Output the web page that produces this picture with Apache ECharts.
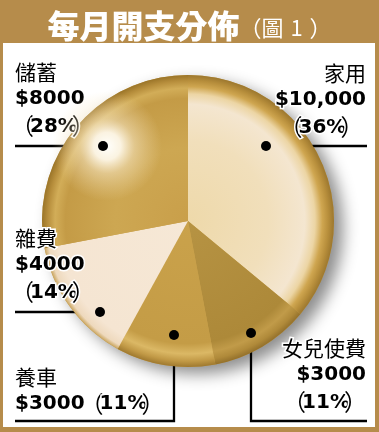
<!DOCTYPE html>
<html>
<head>
<meta charset="utf-8">
<script src="https://cdn.jsdelivr.net/npm/echarts@6/dist/echarts.min.js"></script>
<style>
html,body{margin:0;padding:0;background:#b68c4b;}
#c{width:379px;height:432px;}
</style>
</head>
<body>
<div id="c"></div>
<script>
// ---- data ----
const categories = ['家用', '女兒使費', '養車', '雜費', '儲蓄'];
const amounts = ['$10,000', '$3000', '$3000', '$4000', '$8000'];
const percents = [36, 11, 11, 14, 28];
const titleMain = '每月開支分佈';
const titleSub = ['（', '圖', '1', '）'];

// ---- layout / style (not data) ----
const CX = 188, CY = 221, R = 146;
const labelLayoutCfg = [
  {x: 366, y: 59, align: 'right', line: [[266,146],[316,146],[367,146]], inline: false},
  {x: 366, y: 334, align: 'right', line: [[251,333],[251,421],[367,421]], inline: false},
  {x: 15, y: 363, align: 'left', line: [[174,335],[174,421],[15,421]], inline: true},
  {x: 15, y: 224, align: 'left', line: [[100,312],[57,312],[15,312]], inline: false},
  {x: 15, y: 58, align: 'left', line: [[103,146],[60,146],[15,146]], inline: false}
];
function rg(stops) {
  return {type: 'radial', x: CX, y: CY, r: R, global: true,
    colorStops: stops.map(s => ({offset: s[0], color: s[1]}))};
}
const sliceColors = [
  rg([[0,'#eed9aa'],[0.55,'#f1dfbb'],[0.8,'#f4e6d0'],[0.87,'#ecd5a4'],[0.92,'#cfa650'],[0.96,'#b88f3c'],[1,'#9c772e']]),
  rg([[0,'#b69343'],[0.84,'#ad8939'],[0.91,'#c19b49'],[0.96,'#b08a3a'],[1,'#93702b']]),
  rg([[0,'#caa24b'],[0.84,'#c49c46'],[0.91,'#dbb865'],[0.96,'#c19946'],[1,'#9f792f']]),
  rg([[0,'#f6e8d6'],[0.9,'#f5e5d2'],[0.97,'#eed9bd'],[1,'#c9a45c']]),
  rg([[0,'#c99f4a'],[0.5,'#cda752'],[0.84,'#c49b46'],[0.91,'#d2ad58'],[0.96,'#b78e3c'],[1,'#9a7428']])
];

const pieData = categories.map((c, i) => ({
  name: c,
  value: percents[i],
  itemStyle: {color: sliceColors[i]},
  label: {
    formatter: labelLayoutCfg[i].inline
      ? '{n|' + c + '}\n{v|' + amounts[i] + '}{pl|（}{v|' + percents[i] + '%}{pr|）}'
      : '{n|' + c + '}\n{v|' + amounts[i] + '}\n{pl|（}{v|' + percents[i] + '%}{pr|）}'
  }
}));

const chart = echarts.init(document.getElementById('c'), null, {renderer: 'canvas'});

const dots = labelLayoutCfg.map(l => ({
  type: 'circle', shape: {cx: l.line[0][0], cy: l.line[0][1], r: 5},
  style: {fill: '#000'}, z: 100
}));

const txt = {color: '#000', lineHeight: 27.5, textBorderColor: '#fff', textBorderWidth: 3};
const subStyle = {fontFamily: 'Noto Sans CJK TC', fontWeight: 400, fontSize: 22, color: '#fff', lineHeight: 40, padding: [3,0,0,0]};
const option = {
  backgroundColor: '#b68c4b',
  animation: false,
  title: {
    text: '{a|' + titleMain + '}{b|' + titleSub[0] + '}{b|' + titleSub[1] + '}{g|}{b|' + titleSub[2] + '}{g|}{b|' + titleSub[3] + '}',
    left: 'center', top: 1,
    textStyle: {
      rich: {
        a: {fontFamily: 'Noto Sans CJK TC', fontWeight: 900, fontSize: 32, color: '#fff', lineHeight: 40},
        b: subStyle,
        g: Object.assign({}, subStyle, {width: 7})
      }
    }
  },
  graphic: [
    {type: 'rect', shape: {x: 3, y: 43, width: 372, height: 384}, style: {fill: '#fff'}, z: -10},
    {type: 'circle', shape: {cx: 107, cy: 146, r: 55}, silent: true, z: 50,
      style: {fill: {type: 'radial', x: 0.5, y: 0.5, r: 0.5, colorStops: [
        {offset: 0, color: 'rgba(255,255,252,1)'},
        {offset: 0.25, color: 'rgba(255,250,238,0.92)'},
        {offset: 0.5, color: 'rgba(250,236,205,0.5)'},
        {offset: 1, color: 'rgba(245,225,180,0)'}
      ]}}},
    ...dots
  ],
  series: [
    {
      type: 'pie', silent: true, z: 1,
      center: [CX, CY], radius: R,
      label: {show: false}, labelLine: {show: false},
      itemStyle: {color: '#c9a04c', shadowBlur: 16, shadowColor: 'rgba(0,0,0,0.45)', shadowOffsetX: 9, shadowOffsetY: 7},
      data: [{value: 1, name: 'bg'}]
    },
    {
      type: 'pie', z: 2,
      center: [CX, CY], radius: R,
      startAngle: 90, clockwise: true,
      avoidLabelOverlap: false,
      itemStyle: {borderWidth: 0},
      label: {
        show: true, position: 'outside',
        textBorderColor: '#fff', textBorderWidth: 3,
        rich: {
          n: Object.assign({fontFamily: 'Noto Sans CJK TC', fontSize: 21}, txt),
          v: Object.assign({fontFamily: 'DejaVu Sans', fontWeight: 'bold', fontSize: 20}, txt),
          pl: Object.assign({fontFamily: 'Noto Sans CJK TC', fontSize: 23, width: 15, align: 'right'}, txt),
          pr: Object.assign({fontFamily: 'Noto Sans CJK TC', fontSize: 23, width: 11, align: 'left'}, txt)
        }
      },
      labelLine: {show: true, lineStyle: {color: '#000', width: 2.3}},
      labelLayout: function (params) {
        const L = labelLayoutCfg[params.dataIndex];
        return {x: L.x, y: L.y, align: L.align, verticalAlign: 'top', labelLinePoints: L.line};
      },
      emphasis: {disabled: true},
      data: pieData
    }
  ]
};
chart.setOption(option);
</script>
</body>
</html>
